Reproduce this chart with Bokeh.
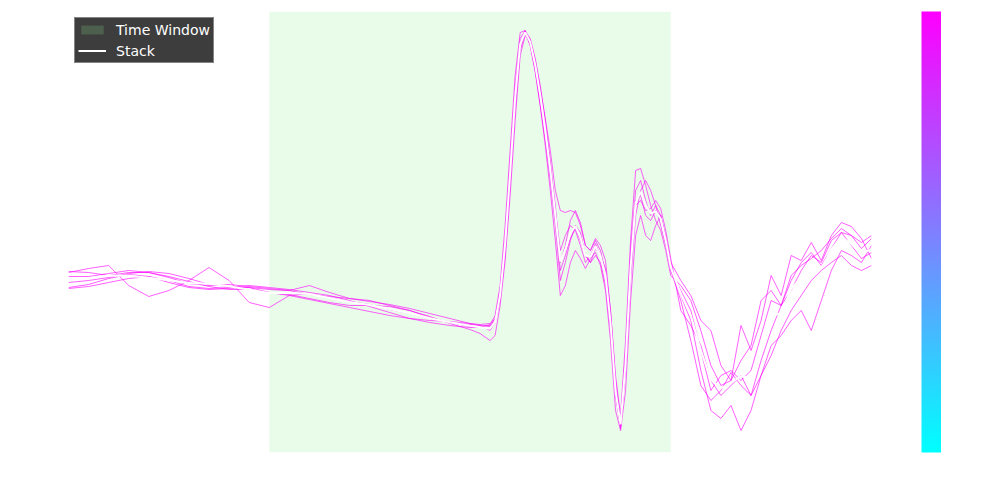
import numpy as np
from bokeh.plotting import figure
from bokeh.models import Range1d, Legend, LegendItem, ColorBar, LinearColorMapper, FixedTicker
from bokeh.embed import file_html
from bokeh.resources import INLINE

# time axis (s)
time_s = [0.0, 0.2, 0.4, 0.6, 0.8, 1.0, 1.2, 1.4, 1.6, 1.8, 2.0, 2.2, 2.4, 2.6, 2.8, 3.0,
          3.2, 3.4, 3.6, 3.8, 4.0, 4.1, 4.2, 4.25, 4.3, 4.35, 4.4, 4.45, 4.5, 4.55, 4.6,
          4.65, 4.7, 4.75, 4.8, 4.85, 4.9, 4.95, 5.0, 5.05, 5.1, 5.15, 5.2, 5.25, 5.3,
          5.35, 5.4, 5.45, 5.5, 5.55, 5.6, 5.65, 5.7, 5.75, 5.8, 5.85, 5.9, 5.95, 6.0,
          6.1, 6.2, 6.3, 6.4, 6.5, 6.6, 6.7, 6.8, 6.9, 7.0, 7.1, 7.2, 7.3, 7.4, 7.5, 7.6,
          7.7, 7.8, 7.9, 8.0]

trace_1 = [8, 12, 15, -5, -16, -10, 0, 13, 0, -22, -27,
           -15, -13, -17, -21, -24, -29, -33, -38, -42, -46,
           -47, -46, -38,
           -10, 45, 120, 195, 242, 250, 240, 218, 190, 155, 115, 75,
           18, 35, 60, 70, 58, 35, 30, 40, 30, 8, -40, -110, -148, -80, 20, 80, 85, 65, 60, 70, 65, 40, 10,
           -10, -30, -70, -110, -95, -90, -100, -90, -55, -20, -25, 5, 15, 22, 30, 42, 52, 45, 32, 42]
trace_2 = [-7, -4, 2, 6, 4, -2, -7, -9, -8, -7, -9,
           -10, -5, -12, -18, -21, -24, -28, -33, -38, -43,
           -45, -45, -40,
           -15, 35, 105, 185, 238, 249, 242, 222, 195, 160, 120, 70,
           30, 45, 55, 50, 35, 18, 25, 37, 25, 12, -30, -95, -135, -60, 40, 110, 112, 95, 75, 60, 50, 30, 5,
           -5, -20, -50, -85, -105, -100, -80, -65, -20, -10, -25, 0, 18, 28, 15, 32, 48, 45, 38, 45]
trace_3 = [9, 8, 5, 8, 8, 3, -3, -5, -4, -6, -8,
           -10, -14, -16, -18, -20, -25, -30, -37, -42, -44,
           -45, -50, -42,
           -20, 25, 95, 170, 230, 247, 235, 210, 175, 140, 100, 55,
           0, 18, 40, 55, 48, 25, 18, 25, 18, -5, -50, -115, -145, -90, 0, 65, 90, 100, 90, 75, 55, 35, 10,
           -20, -60, -105, -120, -110, -92, -105, -115, -80, -50, -25, -10, 10, 25, 18, 40, 48, 35, 22, 28]
trace_4 = [-8, -6, -2, 2, 4, 0, -6, -8, -7, -5, -7,
           -9, -12, -15, -20, -26, -32, -38, -42, -45, -47,
           -47, -44, -35,
           -5, 55, 130, 205, 248, 250, 235, 208, 175, 135, 90, 40,
           -15, -5, 18, 30, 22, 12, 22, 28, 15, -10, -60, -130, -150, -110, -20, 45, 65, 45, 40, 55, 65, 45, 18,
           0, -15, -40, -50, -85, -100, -45, -70, -40, 5, -15, 25, 20, 38, 20, 45, 58, 54, 42, 22]
trace_5 = [4, 4, 7, 10, 8, 4, -1, -6, -9, -9, -12,
           -14, -18, -22, -25, -25, -26, -30, -36, -43, -49,
           -53, -60, -55,
           -25, 20, 85, 160, 225, 245, 240, 220, 192, 162, 130, 90,
           70, 68, 70, 68, 55, 35, 30, 42, 35, 20, -30, -100, -140, -70, 30, 90, 100, 80, 65, 75, 65, 42, 12,
           -15, -40, -90, -130, -138, -125, -150, -130, -95, -65, -55, -40, -30, -50, -20, 10, 30, 25, 18, 35]
trace_6 = [-2, 0, 3, 7, 9, 7, 2, -4, -6, -7, -12,
           -15, -19, -23, -27, -31, -35, -38, -40, -41, -43,
           -44, -43, -38,
           -12, 40, 110, 185, 235, 248, 238, 215, 185, 150, 110, 65,
           10, 25, 42, 52, 40, 25, 18, 32, 24, 5, -45, -115, -145, -85, 10, 75, 80, 70, 72, 80, 72, 50, 22,
           -30, -45, -65, -100, -115, -105, -95, -115, -95, -75, -50, -30, -15, 0, 10, 18, 25, 15, 10, 15]

traces = [trace_1, trace_2, trace_3, trace_4, trace_5, trace_6]
stack = np.mean(np.array(traces, dtype=float), axis=0)

window_start, window_end = 2.0, 6.0
t_min, t_max = 0.0, 8.0
amp_min, amp_max = -172, 269

p = figure(width=941, height=468, output_backend="svg", toolbar_location=None,
           x_range=Range1d(t_min, t_max), y_range=Range1d(amp_min, amp_max),
           min_border_left=68, min_border_top=11, min_border_bottom=16, min_border_right=0)
p.axis.visible = False
p.grid.visible = False
p.outline_line_color = None
p.background_fill_color = "white"
p.border_fill_color = "white"

win = p.quad(left=[window_start], right=[window_end], bottom=[amp_min], top=[amp_max],
             fill_color="lightgreen", fill_alpha=0.2, line_color=None)

for tr in traces:
    p.line(time_s, tr, line_color="#ff00ff", line_alpha=0.7, line_width=0.9)

st = p.line(time_s, stack, line_color="white", line_width=2)

legend = Legend(items=[LegendItem(label="Time Window", renderers=[win]),
                       LegendItem(label="Stack", renderers=[st])],
                location="top_left", margin=6, padding=3, spacing=4,
                label_height=17, glyph_height=11, glyph_width=28, label_standoff=10,
                background_fill_color="#333333", background_fill_alpha=0.95,
                border_line_color="#cccccc", border_line_width=1,
                label_text_color="white", label_text_font="DejaVu Sans",
                label_text_font_size="14px")
p.add_layout(legend)

cool = ["#%02x%02x%02x" % (int(round(255 * i / 255)), int(round(255 * (1 - i / 255))), 255)
        for i in range(256)]
mapper = LinearColorMapper(palette=cool, low=0, high=1)
cb = ColorBar(color_mapper=mapper, width=20, padding=0, margin=0,
              ticker=FixedTicker(ticks=[]), major_label_text_font_size="0px",
              major_tick_line_color=None, minor_tick_line_color=None,
              bar_line_color=None, border_line_color=None, background_fill_alpha=0,
              location=(50, 0))
p.add_layout(cb, "right")

open("out.html", "w").write(file_html(p, INLINE))
